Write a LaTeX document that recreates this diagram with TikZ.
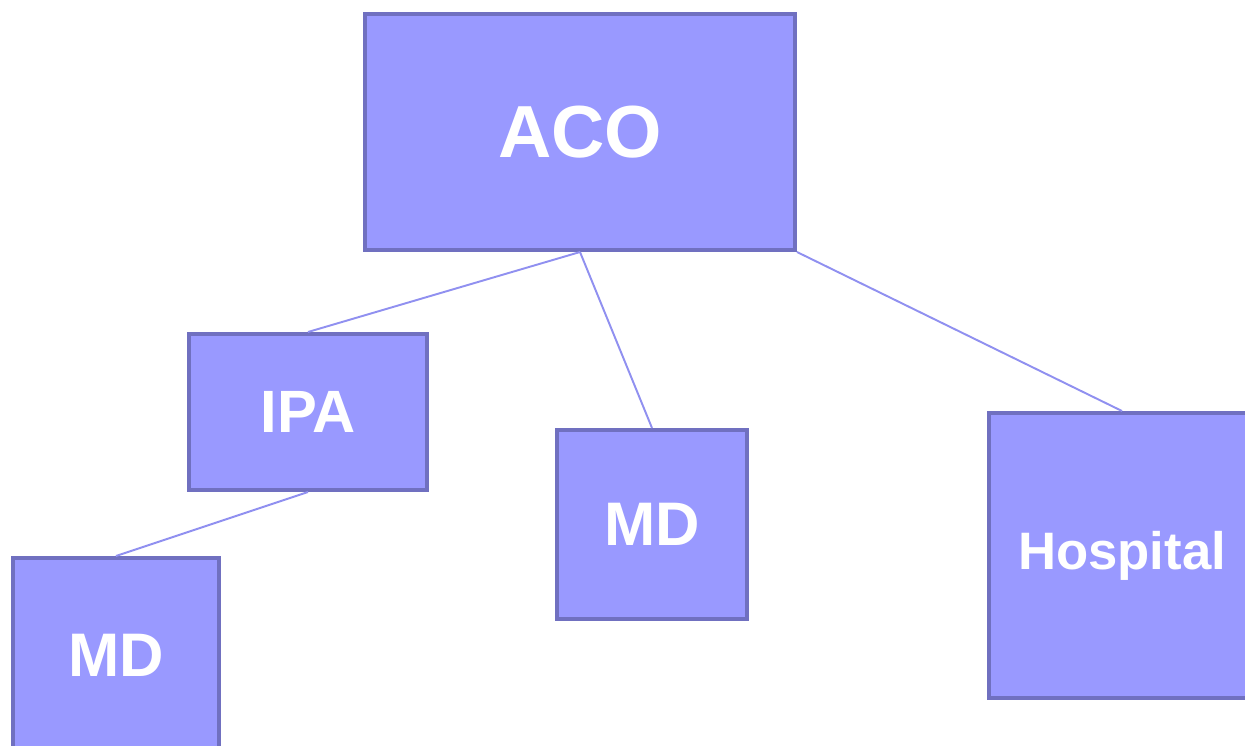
\documentclass[tikz,border=0pt]{standalone}
\usepackage{fontspec}
\setmainfont{Liberation Sans}
\definecolor{boxfill}{HTML}{9999FF}
\definecolor{boxline}{HTML}{7070C0}
\definecolor{linkline}{HTML}{9090F0}

\begin{document}
\begin{tikzpicture}[x=0.02cm,y=-0.02cm,
        orgbox/.style={draw=boxline,fill=boxfill,line width=2.3pt,inner sep=0pt,text=white,font=\bfseries},
        link/.style={draw=linkline,line width=1.1pt}]
    \useasboundingbox (0,0) rectangle (1245,745);
    \clip (0,0) rectangle (1245,745);

    \node[orgbox,minimum width=8.6cm,minimum height=4.72cm,font=\bfseries\fontsize{42}{48}\selectfont] (aco) at (580,132) {ACO};
    \node[orgbox,minimum width=4.76cm,minimum height=3.12cm,font=\bfseries\fontsize{34}{40}\selectfont] (ipa) at (308,412) {IPA};
    \node[orgbox,minimum width=3.8cm,minimum height=3.78cm,font=\bfseries\fontsize{35}{40}\selectfont] (mdaco) at (652,524.5) {MD};
    \node[orgbox,minimum width=5.32cm,minimum height=5.7cm,font=\bfseries\fontsize{30}{36}\selectfont] (hosp) at (1122,555.5) {Hospital};
    \node[orgbox,minimum width=4.12cm,minimum height=3.88cm,font=\bfseries\fontsize{35}{40}\selectfont] (mdipa) at (116,655) {MD};

    \foreach \a/\b in {aco.south/ipa.north,aco.south/mdaco.north,aco.south east/hosp.north,ipa.south/mdipa.north}
        \draw[link] (\a) -- (\b);
\end{tikzpicture}
\end{document}
